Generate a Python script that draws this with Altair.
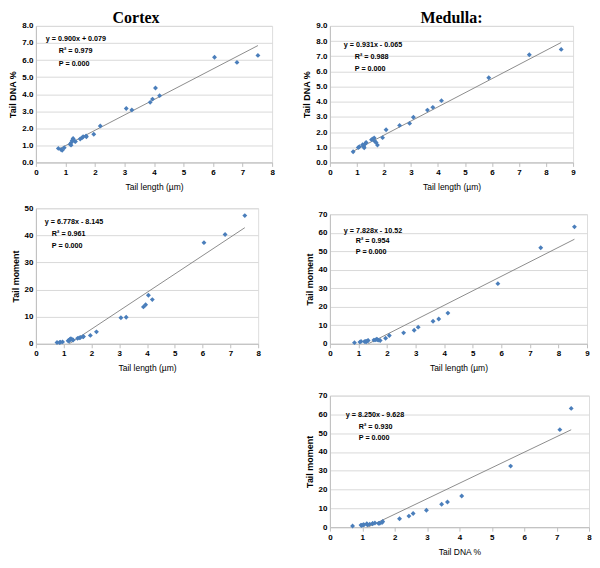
import altair as alt
import pandas as pd

# ---------------- data ----------------
cortex_length = [0.76, 0.85, 0.89, 0.96, 1.16, 1.19, 1.20, 1.23, 1.26, 1.31, 1.34,
                 1.50, 1.56, 1.60, 1.70, 1.71, 1.96, 2.18, 3.06, 3.25, 3.87, 3.95,
                 4.05, 4.19, 6.05, 6.81, 7.52]
cortex_dna = [0.82, 0.75, 0.71, 0.86, 1.07, 1.01, 1.16, 1.29, 1.40, 1.25, 1.22,
              1.37, 1.44, 1.50, 1.55, 1.50, 1.65, 2.13, 3.16, 3.07, 3.52, 3.71,
              4.36, 3.91, 6.16, 5.86, 6.27]
cortex_moment = [0.5, 0.5, 0.6, 0.7, 1.1, 1.0, 1.4, 1.7, 1.9, 1.5, 1.4,
                 2.0, 2.2, 2.3, 2.6, 2.7, 3.1, 4.4, 9.6, 9.8, 13.6, 14.4,
                 17.9, 16.3, 37.3, 40.3, 47.3]

medulla_length = [0.86, 1.05, 1.09, 1.21, 1.25, 1.27, 1.31, 1.34, 1.54, 1.59, 1.64,
                  1.66, 1.71, 1.76, 1.95, 2.08, 2.58, 2.95, 3.09, 3.61, 3.81, 4.13,
                  5.88, 7.38, 8.56]
medulla_dna = [0.70, 0.98, 1.03, 1.16, 1.05, 0.96, 1.23, 1.32, 1.50, 1.54, 1.61,
               1.39, 1.32, 1.14, 1.63, 2.15, 2.44, 2.57, 2.98, 3.45, 3.63, 4.07,
               5.58, 7.10, 7.45]
medulla_moment = [0.6, 0.9, 1.3, 1.2, 1.3, 1.1, 1.6, 1.8, 2.0, 2.1, 2.5,
                  2.2, 2.0, 1.8, 3.0, 4.5, 5.9, 7.3, 9.0, 12.2, 13.4, 16.6,
                  32.5, 51.9, 63.2]

# printed regression equations: slope, intercept, R², P
eq_slopes = [0.900, 6.778, 0.931, 7.828, 8.250]
eq_intercepts = [0.079, -8.145, -0.065, -10.52, -9.628]
eq_labels = ["y = 0.900x + 0.079", "y = 6.778x - 8.145", "y = 0.931x - 0.065",
             "y = 7.828x - 10.52", "y = 8.250x - 9.628"]
r2_labels = ["R² = 0.979", "R² = 0.961", "R² = 0.988", "R² = 0.954", "R² = 0.930"]
p_labels = ["P  = 0.000"] * 5

BLUE = "#4A7EBB"
GRID = "#D9D9D9"
AXC = "#BFBFBF"
FONT = "Liberation Sans"


def panel(xs, ys, idx, xtitle, ytitle, xmax, ymax, ystep, yfmt, w, h, ann, title=None):
    df = pd.DataFrame({"x": xs, "y": ys})
    xlo, xhi = min(xs), max(xs)
    tr = pd.DataFrame({"x": [xlo, xhi],
                       "y": [eq_slopes[idx] * xlo + eq_intercepts[idx],
                             eq_slopes[idx] * xhi + eq_intercepts[idx]]})
    xsc = alt.Scale(domain=[0, xmax], nice=False, zero=True)
    ysc = alt.Scale(domain=[0, ymax], nice=False, zero=True)
    xvals = list(range(0, xmax + 1))
    xaxis = alt.Axis(values=xvals, tickCount=len(xvals), format="d", grid=False,
                     tickSize=4, tickColor=AXC, domainColor=AXC, labelFont=FONT,
                     labelFontSize=8, labelFontWeight="bold", labelColor="black",
                     labelPadding=2, labelOverlap=False, labelFlush=False,
                     title=xtitle, titleFont=FONT, titleFontSize=8.5,
                     titleFontWeight="normal", titleColor="black", titlePadding=6)
    yvals = [round(v * ystep, 3) for v in range(0, int(round(ymax / ystep)) + 1)]
    yaxis = alt.Axis(values=yvals, tickCount=len(yvals), format=yfmt, grid=True,
                     gridColor=GRID, tickSize=0, domainColor=AXC, labelFont=FONT,
                     labelFontSize=8, labelFontWeight="bold", labelColor="black",
                     labelPadding=3, labelOverlap=False, labelFlush=False,
                     title=ytitle, titleFont=FONT, titleFontSize=9,
                     titleFontWeight="bold", titleColor="black", titlePadding=4)
    enc = dict(x=alt.X("x:Q", scale=xsc, axis=xaxis),
               y=alt.Y("y:Q", scale=ysc, axis=yaxis))
    pts = alt.Chart(df).mark_point(shape="diamond", filled=True, size=24,
                                    color=BLUE, opacity=1).encode(**enc)
    line = alt.Chart(tr).mark_line(color="#7F7F7F", strokeWidth=0.9,
                                   clip=True).encode(**enc)
    texts = []
    for (tx, ty), lab in zip(ann, [eq_labels[idx], r2_labels[idx], p_labels[idx]]):
        texts.append(alt.Chart(pd.DataFrame({"t": [lab]})).mark_text(
            align="left", baseline="middle", font=FONT, fontSize=7.2,
            fontWeight="bold", color="black").encode(
            x=alt.value(tx), y=alt.value(ty), text="t:N"))
    ch = alt.layer(line, pts, *texts).properties(width=w, height=h)
    if title is not None:
        ch = ch.properties(title=title)
    return ch


def ttl(text, dx, off):
    return alt.TitleParams(text, font="Liberation Serif", fontSize=16,
                           fontWeight="bold", color="black", anchor="middle",
                           dx=dx, offset=off)


c1 = panel(cortex_length, cortex_dna, 0, "Tail length (µm)", "Tail DNA %", 8, 8, 1,
           ".1f", 237, 137, [(10, 13), (23, 25), (23, 38)], ttl("Cortex", -18, -4))
c2 = panel(cortex_length, cortex_moment, 1, "Tail length (µm)", "Tail moment", 8, 50,
           10, "d", 223, 136, [(9, 14), (16, 26), (16, 38)])
m1 = panel(medulla_length, medulla_dna, 2, "Tail length (µm)", "Tail DNA %", 9, 9, 1,
           ".1f", 244, 137, [(14, 19), (25, 31), (25, 43)], ttl("Medulla:", 0, -4))
m2 = panel(medulla_length, medulla_moment, 3, "Tail length (µm)", "Tail moment", 9, 70,
           10, "d", 258, 130, [(14, 17), (26, 27), (26, 38)])
m3 = panel(medulla_dna, medulla_moment, 4, "Tail DNA %", "Tail moment", 8, 70, 10,
           "d", 260, 132, [(16, 19), (29, 31), (29, 43)])

left = alt.vconcat(c1, c2, spacing=12)
right = alt.vconcat(m1, m2, m3, spacing=18)
chart = alt.hconcat(left, right, spacing=27).properties(padding=0).configure_view(
    stroke=None).configure(background="white")

chart.save("out.html", embed_options={"renderer": "svg", "actions": False})
